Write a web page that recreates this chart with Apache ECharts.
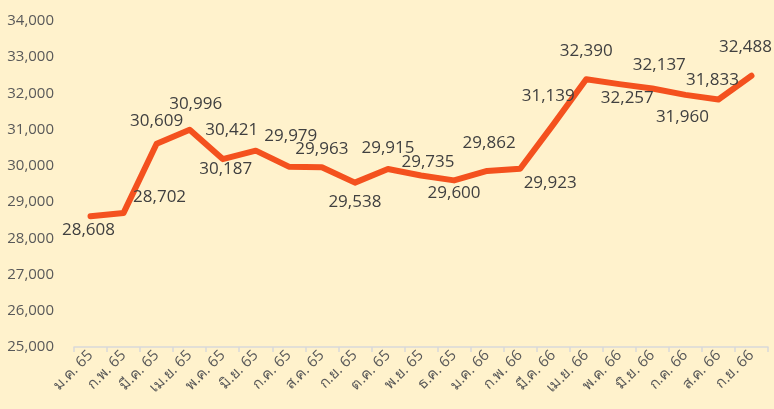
<!DOCTYPE html>
<html>
<head>
<meta charset="utf-8">
<script src="https://cdn.jsdelivr.net/npm/echarts@6/dist/echarts.min.js"></script>
<style>
html,body{margin:0;padding:0;background:#FFF2CC;}
#chart{width:774px;height:409px;}
</style>
</head>
<body>
<div id="chart"></div>
<script>
var categories = ['ม.ค. 65','ก.พ. 65','มี.ค. 65','เม.ย. 65','พ.ค. 65','มิ.ย. 65','ก.ค. 65','ส.ค. 65','ก.ย. 65','ต.ค. 65','พ.ย. 65','ธ.ค. 65','ม.ค. 66','ก.พ. 66','มี.ค. 66','เม.ย. 66','พ.ค. 66','มิ.ย. 66','ก.ค. 66','ส.ค. 66','ก.ย. 66'];
var values = [28608,28702,30609,30996,30187,30421,29979,29963,29538,29915,29735,29600,29862,29923,31139,32390,32257,32137,31960,31833,32488];
var yMin = 25000, yMax = 34000, yStep = 1000;

// label placement (styling only)
var labelOffsets = [[-2,14],[36,-16],[0,-23],[6,-26],[3,10],[-24,-20],[2,-30],[0,-18],[0,20],[0,-21],[7,-13],[0,13],[2,-28],[30,14],[-5,-28],[0,-28],[8,14],[7,-23],[-3,22],[-6,-19],[-6,-29]];

var fmt = function(v){ return Number(v).toLocaleString('en-US'); };
var seriesData = values.map(function(v,i){
  return {value:v, label:{offset:labelOffsets[i]}};
});

var chart = echarts.init(document.getElementById('chart'));
chart.setOption({
  backgroundColor:'#FFF2CC',
  animation:false,
  grid:{left:74,right:6,top:21,bottom:62},
  xAxis:{
    type:'category',
    data:categories,
    boundaryGap:true,
    axisLine:{lineStyle:{color:'#D9D9D9',width:1.5}},
    axisTick:{show:true,length:5,lineStyle:{color:'#D9D9D9',width:1.5}},
    axisLabel:{rotate:45,color:'#595959',fontSize:15,fontFamily:'Open Sans, Noto Sans, sans-serif',margin:6,interval:0}
  },
  yAxis:{
    type:'value',
    min:yMin,max:yMax,interval:yStep,
    axisLine:{show:false},axisTick:{show:false},
    splitLine:{show:false},
    axisLabel:{color:'#595959',fontSize:15,fontFamily:'Open Sans, sans-serif',margin:20,formatter:fmt}
  },
  series:[{
    type:'line',
    data:seriesData,
    symbol:'circle',
    symbolSize:1,
    showSymbol:true,
    itemStyle:{color:'rgba(0,0,0,0)',borderWidth:0},
    lineStyle:{color:'#F4511E',width:6,cap:'round',join:'round'},
    label:{show:true,position:'inside',color:'#404040',fontSize:17,fontFamily:'Open Sans, sans-serif',formatter:function(p){return fmt(p.value);}}
  }]
});
</script>
</body>
</html>
